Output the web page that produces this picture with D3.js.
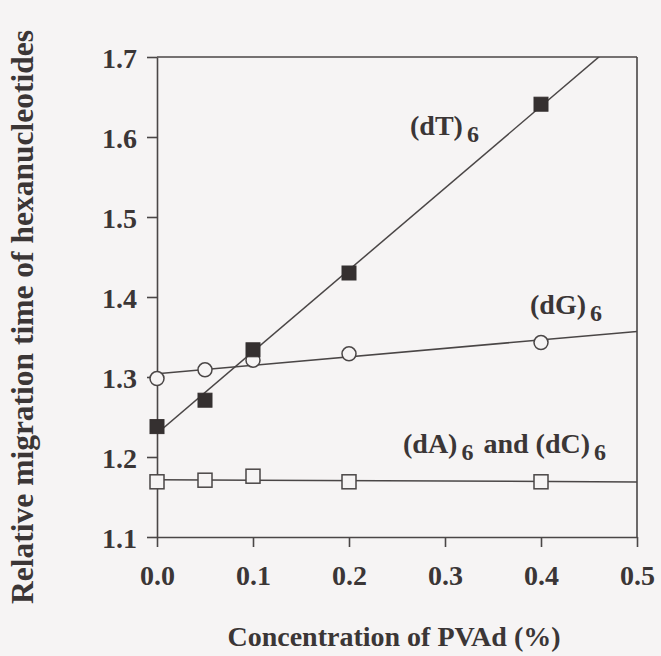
<!DOCTYPE html>
<html>
<head>
<meta charset="utf-8">
<script src="https://cdn.jsdelivr.net/npm/d3@7"></script>
<style>
  html, body { margin: 0; padding: 0; background: #f6f4f4; }
  svg { display: block; }
  text { font-family: "Liberation Serif", "Times New Roman", serif; font-weight: bold; fill: #3b3636; }
</style>
</head>
<body>
<svg id="chart" width="661" height="656"></svg>
<script>
// PVAd concentration (%) at which migration times were measured
const concentrations = [0.0, 0.05, 0.1, 0.2, 0.4];

// Relative migration times of the hexanucleotides
const dT6 = [1.238, 1.271, 1.334, 1.430, 1.641];
const dG6 = [1.298, 1.309, 1.321, 1.329, 1.343];
const dAdC6 = [1.169, 1.171, 1.176, 1.169, 1.169];

const xTicks = [0.0, 0.1, 0.2, 0.3, 0.4, 0.5];
const yTicks = [1.1, 1.2, 1.3, 1.4, 1.5, 1.6, 1.7];

const svg = d3.select("#chart");
const margin = { left: 157, top: 57, right: 637, bottom: 537 };

const x = d3.scaleLinear().domain([0, 0.5]).range([margin.left, margin.right]);
const y = d3.scaleLinear().domain([1.1, 1.7]).range([margin.bottom, margin.top]);

const ink = "#4a4646";

// clip region for the regression lines
svg.append("defs").append("clipPath").attr("id", "plotClip")
  .append("rect")
  .attr("x", margin.left).attr("y", margin.top)
  .attr("width", margin.right - margin.left)
  .attr("height", margin.bottom - margin.top);

// axes
const xAxis = d3.axisBottom(x).tickValues(xTicks).tickFormat(d3.format(".1f"))
  .tickSize(10).tickSizeOuter(0).tickPadding(18);
const yAxis = d3.axisLeft(y).tickValues(yTicks).tickFormat(d3.format(".1f"))
  .tickSize(10).tickSizeOuter(0).tickPadding(10);

const gx = svg.append("g").attr("transform", `translate(0,${margin.bottom})`).call(xAxis);
const gy = svg.append("g").attr("transform", `translate(${margin.left},0)`).call(yAxis);

[gx, gy].forEach(g => {
  g.selectAll("path.domain").attr("stroke", ink).attr("stroke-width", 1.6);
  g.selectAll(".tick line").attr("stroke", ink).attr("stroke-width", 1.6);
  g.selectAll(".tick text").style("font-size", "28px").attr("fill", "#3b3636");
});
gx.selectAll(".tick text").attr("dy", "0.71em");
gy.selectAll(".tick text").attr("dy", "0.38em");

// top and right frame lines
svg.append("line")
  .attr("x1", x(0)).attr("x2", x(0.5))
  .attr("y1", y(1.7)).attr("y2", y(1.7))
  .attr("stroke", ink).attr("stroke-width", 1.6);
svg.append("line")
  .attr("x1", x(0.5)).attr("x2", x(0.5))
  .attr("y1", y(1.7)).attr("y2", y(1.1))
  .attr("stroke", ink).attr("stroke-width", 1.6);

// least-squares fit line for one series
function fit(xs, ys) {
  const mx = d3.mean(xs), my = d3.mean(ys);
  let sxy = 0, sxx = 0;
  xs.forEach((xv, i) => { sxy += (xv - mx) * (ys[i] - my); sxx += (xv - mx) * (xv - mx); });
  const b = sxy / sxx;
  const a = my - b * mx;
  return [[0, a], [0.5, a + b * 0.5]];
}

const lineGen = d3.line().x(d => x(d[0])).y(d => y(d[1]));
const lines = svg.append("g").attr("clip-path", "url(#plotClip)");
[dT6, dG6, dAdC6].forEach(series => {
  lines.append("path")
    .attr("d", lineGen(fit(concentrations, series)))
    .attr("fill", "none")
    .attr("stroke", ink)
    .attr("stroke-width", 1.5);
});

// markers
const sq = 14;
svg.append("g").selectAll("rect")
  .data(concentrations.map((c, i) => [c, dAdC6[i]]))
  .join("rect")
  .attr("x", d => x(d[0]) - sq / 2).attr("y", d => y(d[1]) - sq / 2)
  .attr("width", sq).attr("height", sq)
  .attr("fill", "#f6f4f4").attr("stroke", ink).attr("stroke-width", 1.5);

svg.append("g").selectAll("circle")
  .data(concentrations.map((c, i) => [c, dG6[i]]))
  .join("circle")
  .attr("cx", d => x(d[0])).attr("cy", d => y(d[1])).attr("r", 7)
  .attr("fill", "#f6f4f4").attr("stroke", ink).attr("stroke-width", 1.5);

svg.append("g").selectAll("rect")
  .data(concentrations.map((c, i) => [c, dT6[i]]))
  .join("rect")
  .attr("x", d => x(d[0]) - sq / 2).attr("y", d => y(d[1]) - sq / 2)
  .attr("width", sq).attr("height", sq)
  .attr("fill", "#353030").attr("stroke", "#353030").attr("stroke-width", 1);

// series labels with subscript 6
function label(parts, px, py) {
  const t = svg.append("text").attr("x", px).attr("y", py).style("font-size", "28px");
  parts.forEach(p => {
    if (p.sub) {
      t.append("tspan").text(p.text).attr("dx", 4).attr("dy", 7).style("font-size", "24px");
    } else {
      t.append("tspan").text(p.text).attr("dx", p.after ? 3 : 0).attr("dy", p.after ? -7 : 0);
    }
  });
}
label([{ text: "(dT)" }, { text: "6", sub: true }], 410, 135);
label([{ text: "(dG)" }, { text: "6", sub: true }], 530, 314);
label([{ text: "(dA)" }, { text: "6", sub: true }, { text: " and  (dC)", after: true }, { text: "6", sub: true }], 403, 453);

// axis titles
svg.append("text")
  .attr("x", 394).attr("y", 646)
  .attr("text-anchor", "middle")
  .style("font-size", "28px")
  .text("Concentration of PVAd (%)");

svg.append("text")
  .attr("transform", "translate(33,317) rotate(-90)")
  .attr("text-anchor", "middle")
  .style("font-size", "31.5px")
  .text("Relative migration time of hexanucleotides");
</script>
</body>
</html>
